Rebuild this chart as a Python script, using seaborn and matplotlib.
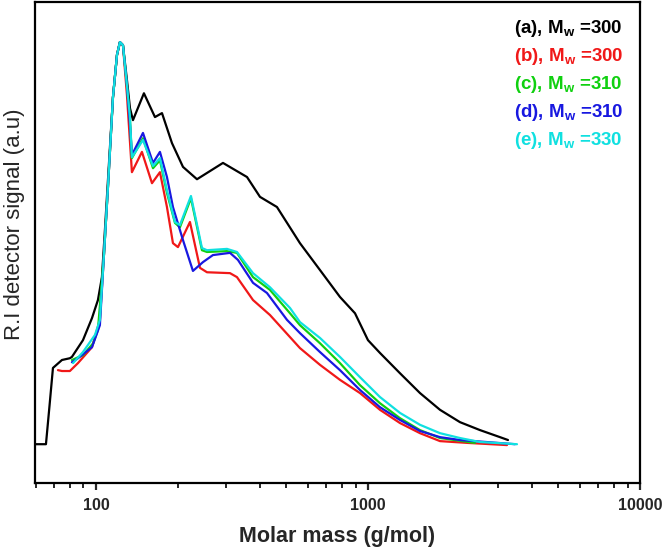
import matplotlib
matplotlib.use("Agg")
import matplotlib.pyplot as plt
import matplotlib.ticker as mticker
import seaborn as sns
import numpy as np

# ---- data (molar mass g/mol, RI signal a.u.) ----
mass_a = [59.7, 65.5, 67.5, 69.5, 75.0, 80.2, 81.6, 89.6, 96.7, 101.7, 105.2, 107.9, 110.7,
          115.5, 119.5, 122.5, 125.7, 130.0, 133.4, 136.8, 150.1, 164.8, 174.9, 190.3, 208.9,
          235.2, 293.1, 359.2, 400.9, 462.8, 562.3, 666.2, 788.9, 896.0, 1000, 1106.9, 1311.1,
          1553.2, 1839.8, 2179.0, 2581, 3057, 3271]
sig_a = [8.8, 8.8, 17.5, 26.1, 27.9, 28.3, 28.6, 32.4, 37.4, 41.5, 46.7, 57.4, 68.7,
         87.5, 97.1, 100.0, 99.3, 91.4, 85.0, 82.3, 88.4, 83.0, 83.9, 77.1, 71.7,
         68.9, 72.6, 69.4, 64.9, 62.6, 54.4, 48.3, 42.2, 38.5, 32.4, 29.5, 24.9,
         20.4, 16.6, 13.8, 12.0, 10.4, 9.75]

mass_b = [72.5, 75.0, 80.2, 85.9, 96.7, 103.4, 107.0, 110.7, 115.5, 119.5, 122.5, 125.7, 130.0,
          135.6, 147.6, 160.7, 171.9, 182.4, 191.9, 200.2, 221.6, 241.2, 256.0, 311.0, 329.9,
          377.9, 436.3, 562.3, 666.2, 788.9, 934.6, 1106.9, 1311.1, 1553.2, 1839.8, 2312, 3243]
sig_b = [25.6, 25.4, 25.4, 27.2, 30.8, 37.0, 51.7, 67.1, 87.5, 97.1, 100.0, 99.3, 88.0,
         70.5, 75.1, 68.0, 70.5, 62.6, 54.4, 53.5, 59.2, 48.8, 47.8, 47.6, 46.7,
         41.5, 38.1, 30.6, 26.8, 23.4, 20.4, 16.6, 13.6, 11.3, 9.5, 9.1, 8.6]

mass_c = [81.6, 89.6, 97.7, 101.7, 107.0, 110.7, 115.5, 119.5, 122.5, 125.7, 130.0, 133.4,
          135.6, 148.9, 162.1, 171.9, 182.4, 195.2, 203.6, 223.5, 245.3, 256.0, 303.2, 329.9,
          377.9, 436.3, 516.8, 562.3, 666.2, 788.9, 934.6, 1106.9, 1311.1, 1553.2, 1839.8, 2474]
sig_c = [27.9, 29.0, 31.7, 34.7, 51.7, 67.1, 87.5, 97.1, 100.0, 99.3, 90.2, 82.3,
         73.7, 78.2, 71.4, 73.2, 65.8, 59.0, 58.0, 64.6, 52.8, 52.4, 52.6, 52.2,
         46.7, 43.8, 38.5, 35.8, 31.7, 27.2, 22.2, 18.1, 14.7, 12.0, 10.2, 9.1]

mass_d = [81.6, 85.9, 96.7, 103.4, 107.0, 110.7, 115.5, 119.5, 122.5, 125.7, 130.0, 133.4,
          135.6, 148.9, 162.1, 171.9, 182.4, 191.9, 208.9, 227.3, 247.4, 269.2, 311.0, 332.7,
          377.9, 425.3, 503.9, 562.3, 666.2, 788.9, 934.6, 1106.9, 1311.1, 1553.2, 1839.8, 2179.0, 3471]
sig_d = [27.4, 28.3, 30.8, 35.8, 51.7, 67.1, 87.5, 97.1, 100.0, 99.3, 90.2, 81.2,
         74.4, 79.4, 72.6, 75.1, 69.4, 62.6, 55.1, 48.1, 50.1, 51.7, 52.2, 50.6,
         45.4, 43.1, 37.0, 34.0, 29.7, 25.6, 21.1, 17.2, 14.3, 11.8, 10.4, 9.75, 8.8]

mass_e = [82.4, 89.6, 99.2, 103.4, 107.0, 110.7, 115.5, 119.5, 122.5, 125.7, 130.0, 133.4,
          135.6, 148.9, 162.1, 171.9, 182.4, 195.2, 203.6, 223.5, 245.3, 256.0, 303.2, 329.9,
          377.9, 436.3, 516.8, 562.3, 666.2, 788.9, 934.6, 1106.9, 1311.1, 1553.2, 1839.8,
          2179.0, 2581, 3530]
sig_e = [27.2, 29.7, 33.6, 37.0, 51.7, 67.1, 87.5, 97.1, 100.0, 99.3, 90.2, 82.8,
         73.9, 77.8, 71.9, 73.7, 66.4, 59.2, 58.5, 65.1, 53.3, 52.8, 53.1, 52.4,
         47.6, 44.4, 39.7, 36.5, 32.9, 28.6, 24.0, 19.5, 15.9, 13.2, 11.3,
         10.2, 9.3, 8.8]

labels = ["(a), M$_{\\mathregular{w}}$ =300", "(b), M$_{\\mathregular{w}}$ =300",
          "(c), M$_{\\mathregular{w}}$ =310", "(d), M$_{\\mathregular{w}}$ =310",
          "(e), M$_{\\mathregular{w}}$ =330"]
colors = ["#000000", "#f01818", "#10d010", "#1818e0", "#10e0e0"]
x_ticks = [100, 1000, 10000]
x_tick_labels = ["100", "1000", "10000"]

sns.set_style("white")
plt.rcParams["font.family"] = ["Liberation Sans", "DejaVu Sans"]
plt.rcParams["mathtext.fontset"] = "custom"
plt.rcParams["mathtext.rm"] = "Liberation Sans"
plt.rcParams["mathtext.bf"] = "Liberation Sans:bold"

fig = plt.figure(figsize=(6.66, 5.47), dpi=100)
ax = fig.add_axes([35 / 666, 1 - 483 / 547, (640 - 35) / 666, (483 - 2) / 547])

series = [(mass_a, sig_a), (mass_b, sig_b), (mass_c, sig_c), (mass_d, sig_d), (mass_e, sig_e)]
for (m, s), lab, col in zip(series, labels, colors):
    sns.lineplot(x=m, y=s, ax=ax, color=col, linewidth=1.6, label=lab,
                 estimator=None, sort=False)

ax.set_xscale("log")
ax.set_xlim(59.7, 10000)
ax.set_ylim(0, 109.1)
ax.set_yticks([])
ax.set_xticks(x_ticks)
ax.set_xticklabels(x_tick_labels, fontweight="bold", fontsize=11.5)
ax.xaxis.set_minor_locator(mticker.LogLocator(base=10, subs=np.arange(2, 10)))
ax.xaxis.set_minor_formatter(mticker.NullFormatter())
ax.tick_params(axis="x", which="major", direction="out", length=5, width=1.6, pad=6, bottom=True)
ax.tick_params(axis="x", which="minor", direction="out", length=3.5, width=1.4, bottom=True)
for sp in ax.spines.values():
    sp.set_linewidth(1.6)
    sp.set_color("black")

ax.set_xlabel("Molar mass (g/mol)", fontsize=15.5, fontweight="bold", labelpad=9)
ax.set_ylabel("R.I detector signal (a.u)", fontsize=16, fontweight="normal")
ax.yaxis.set_label_coords(-0.016, 0.538)

leg = ax.legend(loc="upper right", frameon=False, handlelength=0, handletextpad=0,
                labelcolor="linecolor", labelspacing=0.38,
                borderaxespad=0.6, borderpad=0.25, prop={"weight": "bold", "size": 13.5})
for h in leg.legend_handles:
    h.set_visible(False)

fig.savefig("out.png", dpi=100)
